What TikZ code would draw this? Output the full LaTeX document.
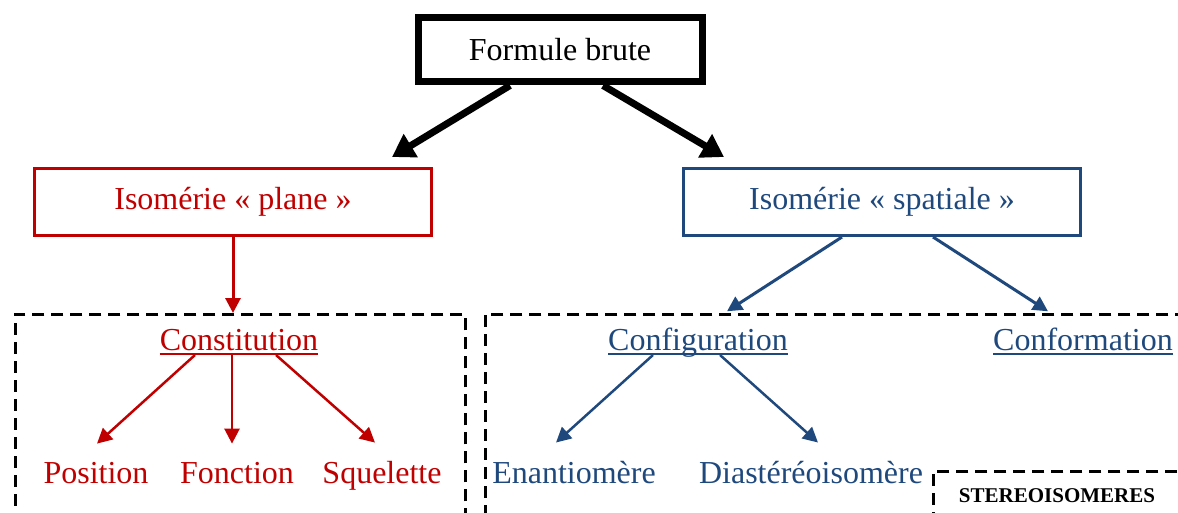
\documentclass[tikz,border=0pt]{standalone}
\usepackage{fontspec}
\setmainfont{Liberation Serif}
\usetikzlibrary{arrows.meta}
\definecolor{isored}{RGB}{192,0,0}
\definecolor{isoblue}{RGB}{31,73,125}

\tikzset{
  lbl/.style={inner sep=0pt, anchor=base, font=\fontsize{32}{38}\selectfont},
  titlebox/.style={draw, line width=7pt, minimum width=284pt, minimum height=64pt,
    font=\fontsize{32}{38}\selectfont},
  isobox/.style={draw=#1, text=#1, line width=3pt, minimum width=397pt, minimum height=67pt,
    font=\fontsize{32}{38}\selectfont},
  grpbox/.style={draw, anchor=north west, line width=2.5pt, dash pattern=on 12pt off 7pt},
  bigarrow/.style={-{Triangle[length=22pt,width=26pt]}, line width=7pt},
  smallarrow/.style={-{Triangle[length=15pt,width=15pt]}, line width=#1},
  smallarrow/.default=2.5pt
}

\begin{document}
\begin{tikzpicture}[x=1pt,y=-1pt]
\useasboundingbox (0,0) rectangle (1178,513);

% dashed groups
\node[grpbox, minimum width=450pt, minimum height=250pt] (grpplane) at (14,313) {};
\node[grpbox, minimum width=720pt, minimum height=250pt] (grpspat) at (484,313) {};
\node[grpbox, minimum width=300pt, minimum height=100pt] (grpstereo) at (932,470) {};

% boxes
\node[titlebox] (formule) at (560,50) {Formule brute};
\node[isobox=isored] (plane) at (233,202) {Isomérie « plane »};
\node[isobox=isoblue] (spatiale) at (882,202) {Isomérie « spatiale »};

% labels
\node[lbl, isored] (constit) at (239,350) {Constitution};
\node[lbl, isored] (position) at (96,483) {Position};
\node[lbl, isored] (fonction) at (237,483) {Fonction};
\node[lbl, isored] (squelette) at (382,483) {Squelette};
\node[lbl, isoblue] (config) at (698,350) {Configuration};
\node[lbl, isoblue] (conform) at (1083,350) {Conformation};
\node[lbl, isoblue] (enantio) at (574,483) {Enantiomère};
\node[lbl, isoblue] (diastereo) at (811,483) {Diastéréoisomère};
\node[lbl, font=\fontsize{21}{25}\selectfont\bfseries] (stereo) at (1057,502) {STEREOISOMERES};

\foreach \n/\c in {constit/isored, config/isoblue, conform/isoblue}
  \draw[\c, line width=2.5pt] ([yshift=-4pt]\n.base west) -- ([yshift=-4pt]\n.base east);

% arrows
\draw[bigarrow] ([xshift=-50pt]formule.south) -- ([xshift=-41pt,yshift=10pt]plane.north east);
\draw[bigarrow] ([xshift=43pt]formule.south) -- ([xshift=42pt,yshift=10pt]spatiale.north west);

\draw[isored, smallarrow=3pt] (plane.south) -- (plane.south |- grpplane.north);
\draw[isored, smallarrow] ([xshift=-44pt,yshift=-5pt]constit.base) -- ([xshift=1pt,yshift=18pt]position.north);
\draw[isored, smallarrow] ([xshift=-7pt,yshift=-5pt]constit.base) -- ([xshift=-5pt,yshift=18pt]fonction.north);
\draw[isored, smallarrow] ([xshift=37pt,yshift=-5pt]constit.base) -- ([xshift=-7pt,yshift=18pt]squelette.north);

\draw[isoblue, smallarrow=3pt] ([xshift=-40pt]spatiale.south) -- ([xshift=29pt,yshift=16pt]config.north);
\draw[isoblue, smallarrow=3pt] ([xshift=51pt]spatiale.south) -- ([xshift=-35pt,yshift=16pt]conform.north);
\draw[isoblue, smallarrow] ([xshift=-45pt,yshift=-5pt]config.base) -- ([xshift=-18pt,yshift=18pt]enantio.north);
\draw[isoblue, smallarrow] ([xshift=22pt,yshift=-5pt]config.base) -- ([xshift=7pt,yshift=18pt]diastereo.north);
\end{tikzpicture}
\end{document}
